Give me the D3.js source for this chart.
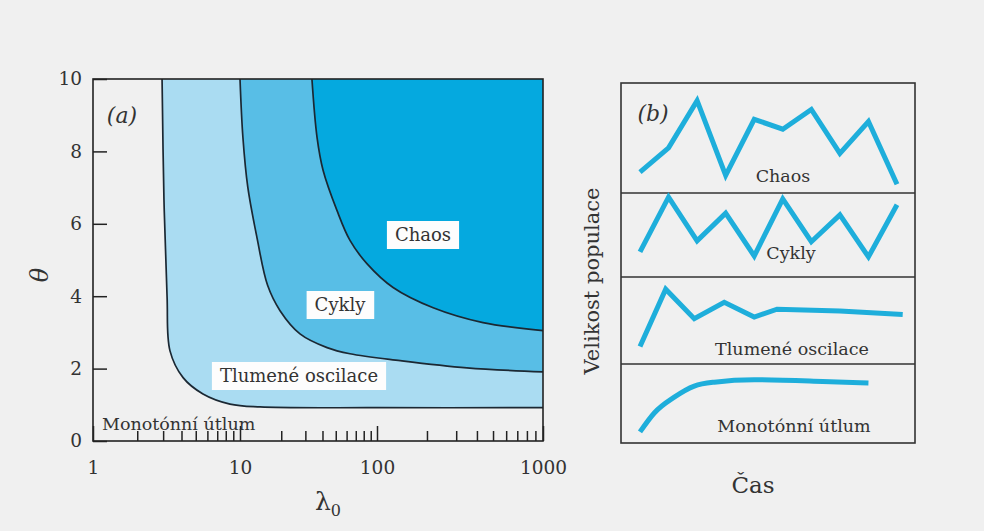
<!DOCTYPE html>
<html>
<head>
<meta charset="utf-8">
<script src="https://cdn.jsdelivr.net/npm/d3@7"></script>
<style>
body { margin: 0; background: #f0f0f0; }
text { font-family: "DejaVu Serif", serif; fill: #333; }
</style>
</head>
<body>
<div id="chart"></div>
<script>
// ---- data, panel (a): stability diagram ----
var xMajor = [1, 10, 100, 1000];
var xMinor = [2,3,4,5,6,7,8,9, 20,30,40,50,60,70,80,90, 200,300,400,500,600,700,800,900];
var yTicks = [0, 2, 4, 6, 8, 10];

// boundaries as [lambda0, theta]
var monoDamped = [[2.95,10],[3.04,6.65],[3.19,4.0],[3.34,2.49],[4.1,1.75],[5.6,1.3],[8.55,1.02],[14,0.94],[100,0.92],[1000,0.92]];
var dampedCycles = [[10,10],[10.5,8.39],[11.4,7.01],[13.3,5.62],[15.9,4.3],[19.6,3.6],[27.4,2.96],[43.2,2.58],[63.5,2.41],[138,2.22],[348,2.02],[1000,1.91]];
var cyclesChaos = [[33.5,10],[36.5,8.39],[40.4,7.48],[51,6.37],[63.5,5.54],[84.4,4.9],[125,4.24],[218,3.68],[435,3.27],[1000,3.05]];

// ---- data, panel (b): population over time ----
var chaosT = [0,1,2,3,4,5,6,7,8,9];
var chaosN = [0.19,0.41,0.84,0.16,0.67,0.58,0.76,0.36,0.65,0.08];
var cyclesT = [0,1,2,3,4,5,6,7,8,9];
var cyclesN = [0.30,0.95,0.43,0.76,0.25,0.93,0.42,0.74,0.24,0.86];
var dampedT = [0,0.9,1.9,2.95,4,4.8,7,9.2];
var dampedN = [0.20,0.86,0.52,0.71,0.54,0.63,0.61,0.57];
var monoT = [0,0.5,1.2,1.9,2.6,4,6.4,8];
var monoN = [0.14,0.38,0.58,0.72,0.77,0.80,0.78,0.76];

var width = 984, height = 531;
var light = "#aadcf2", mid = "#58bee6", dark = "#05a9df", lineBlue = "#1eaedb";

var svg = d3.select("#chart").append("svg")
	.attr("width", width)
	.attr("height", height);

svg.append("rect").attr("width", width).attr("height", height).attr("fill", "#f0f0f0");

// ---------- panel (a) ----------
var x = d3.scaleLog().domain([1,10,100,1000]).range([93,240,377,543]);
var y = d3.scaleLinear().domain([0,10]).range([441,79]);

var line = d3.line()
	.x(function(d){ return x(d[0]); })
	.y(function(d){ return y(d[1]); })
	.curve(d3.curveCatmullRom);

function region(pts, fill){
	var p = line(pts) + "L" + x(1000) + "," + y(10) + "Z";
	svg.append("path").attr("d", p).attr("fill", fill);
}
region(monoDamped, light);
region(dampedCycles, mid);
region(cyclesChaos, dark);

[monoDamped, dampedCycles, cyclesChaos].forEach(function(b){
	svg.append("path").attr("d", line(b))
		.attr("fill", "none").attr("stroke", "#1b2833").attr("stroke-width", 1.7);
});

svg.append("rect")
	.attr("x", x(1)).attr("y", y(10))
	.attr("width", x(1000) - x(1)).attr("height", y(0) - y(10))
	.attr("fill", "none").attr("stroke", "#222").attr("stroke-width", 1.6);

var yAxis = svg.append("g").attr("transform", "translate(" + x(1) + ",0)")
	.call(d3.axisLeft(y).tickValues(yTicks).tickSizeInner(-14).tickSizeOuter(0).tickPadding(11));

var xAxisMinor = svg.append("g").attr("transform", "translate(0," + y(0) + ")")
	.call(d3.axisBottom(x).tickValues(xMinor).tickFormat("").tickSizeInner(-10).tickSizeOuter(0));

var xAxis = svg.append("g").attr("transform", "translate(0," + y(0) + ")")
	.call(d3.axisBottom(x).tickValues(xMajor).tickFormat(d3.format("d")).tickSizeInner(-15).tickSizeOuter(0).tickPadding(20));

[yAxis, xAxis, xAxisMinor].forEach(function(g){
	g.select(".domain").remove();
	g.selectAll(".tick line").attr("stroke", "#222").attr("stroke-width", 1.5);
	g.selectAll(".tick text").style("font-family", "DejaVu Serif, serif").style("font-size", "18.5px").attr("fill", "#333");
});

svg.append("text").attr("x", 122).attr("y", 123).attr("text-anchor", "middle")
	.style("font-size", "22px").style("font-style", "italic").text("(a)");

svg.append("text").attr("transform", "translate(48,275) rotate(-90)").attr("text-anchor", "middle")
	.style("font-size", "24px").style("font-style", "italic").text("θ");

var lam = svg.append("text").attr("x", 328).attr("y", 510).attr("text-anchor", "middle").style("font-size", "25px");
lam.append("tspan").text("λ");
lam.append("tspan").attr("dy", 6).style("font-size", "16px").text("0");

function boxLabel(cx, cy, txt){
	var t = svg.append("text").attr("x", cx).attr("y", cy).attr("dy", "0.35em")
		.attr("text-anchor", "middle").style("font-size", "18px").text(txt);
	var bb = t.node().getBBox();
	svg.insert("rect", function(){ return t.node(); })
		.attr("x", bb.x - 8).attr("y", cy - 14)
		.attr("width", bb.width + 16).attr("height", 28)
		.attr("fill", "#fdfdfd");
}
boxLabel(423, 235, "Chaos");
boxLabel(340, 305, "Cykly");
boxLabel(299, 376, "Tlumené oscilace");

svg.append("text").attr("x", 102).attr("y", 430).style("font-size", "17.5px").text("Monotónní útlum");

// ---------- panel (b) ----------
var bx0 = 621, bx1 = 915;
var panels = [
	{ top: 83, bottom: 193, t: chaosT, n: chaosN, label: "Chaos", ly: 182, lx: 783 },
	{ top: 193, bottom: 277, t: cyclesT, n: cyclesN, label: "Cykly", ly: 259, lx: 791 },
	{ top: 277, bottom: 364, t: dampedT, n: dampedN, label: "Tlumené oscilace", ly: 355, lx: 792 },
	{ top: 364, bottom: 443, t: monoT, n: monoN, label: "Monotónní útlum", ly: 432, lx: 794 }
];

var tx = d3.scaleLinear().domain([0,9]).range([640,897]);

svg.append("rect").attr("x", bx0).attr("y", 83).attr("width", bx1 - bx0).attr("height", 443 - 83)
	.attr("fill", "none").attr("stroke", "#333").attr("stroke-width", 1.6);

panels.forEach(function(p, i){
	if (i > 0) {
		svg.append("line").attr("x1", bx0).attr("x2", bx1).attr("y1", p.top).attr("y2", p.top)
			.attr("stroke", "#333").attr("stroke-width", 1.6);
	}
	var py = d3.scaleLinear().domain([0,1]).range([p.bottom, p.top]);
	var pl = d3.line()
		.x(function(d, j){ return tx(p.t[j]); })
		.y(function(d){ return py(d); })
		.curve(i == 3 ? d3.curveMonotoneX : d3.curveLinear);
	svg.append("path").attr("d", pl(p.n))
		.attr("fill", "none").attr("stroke", lineBlue).attr("stroke-width", 5)
		.attr("stroke-linejoin", "miter");
	svg.append("text").attr("x", p.lx).attr("y", p.ly).attr("text-anchor", "middle")
		.style("font-size", "17.5px").text(p.label);
});

svg.append("text").attr("x", 653).attr("y", 121).attr("text-anchor", "middle")
	.style("font-size", "22px").style("font-style", "italic").text("(b)");

svg.append("text").attr("transform", "translate(599,281) rotate(-90)").attr("text-anchor", "middle")
	.style("font-size", "21px").text("Velikost populace");

svg.append("text").attr("x", 753).attr("y", 493).attr("text-anchor", "middle")
	.style("font-size", "23px").text("Čas");
</script>
</body>
</html>
